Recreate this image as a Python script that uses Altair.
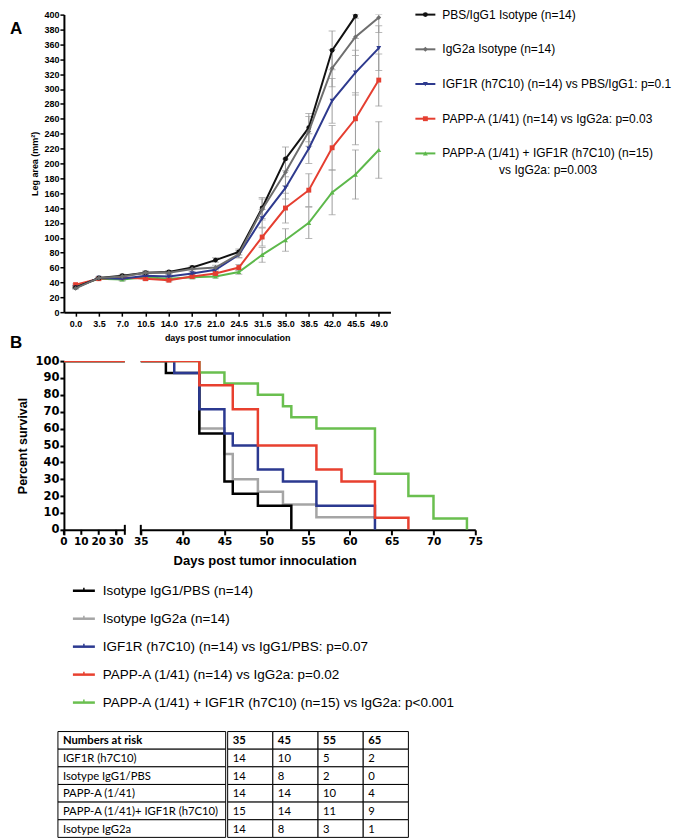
import altair as alt
import pandas as pd

FONT = "Liberation Sans"

# ---------------- Panel A : leg tumour area ----------------
DAYS_A = ["0.0", "3.5", "7.0", "10.5", "14.0", "17.5", "21.0", "24.5",
          "31.5", "35.0", "38.5", "42.0", "45.5", "49.0"]
A_NAMES = [
    "PBS/IgG1 Isotype (n=14)",
    "IgG2a Isotype (n=14)",
    "IGF1R (h7C10) (n=14) vs PBS/IgG1: p=0.1",
    "PAPP-A (1/41) (n=14) vs IgG2a: p=0.03",
    "PAPP-A (1/41) + IGF1R (h7C10) (n=15)",
]
A_NAME_CONT = "vs IgG2a: p=0.003"
A_PBS = [33, 46, 49, 53, 54, 60, 70, 81, 140, 206, 248, 352, 398, None]
A_IGG2A = [32, 46, 48, 53, 53, 58, 60, 78, 138, 188, 243, 328, 370, 396]
A_IGF1R = [33, 46, 45, 49, 48, 52, 57, 77, 126, 167, 220, 284, 322, 355]
A_PAPPA = [37, 45, 47, 45, 43, 48, 52, 60, 101, 140, 164, 221, 260, 312]
A_COMBO = [35, 45, 44, 47, 45, 47, 48, 54, 77, 97, 120, 161, 185, 218]
SEM_PBS = [1, 1, 2, 2, 2, 2, 3, 4, 14, 16, 19, 26, 30, None]
SEM_IGG2A = [1, 1, 2, 2, 2, 3, 3, 5, 14, 18, 20, 25, 25, 20]
SEM_IGF1R = [1, 1, 2, 2, 2, 2, 3, 4, 12, 15, 20, 30, 30, 30]
SEM_PAPPA = [1, 1, 2, 2, 2, 2, 3, 4, 12, 20, 22, 30, 35, 35]
SEM_COMBO = [1, 1, 2, 2, 2, 2, 2, 3, 10, 15, 21, 30, 33, 38]

A_COLORS = ["#111111", "#6e6e6e", "#2e3a8e", "#e53e30", "#5db84b"]
A_SHAPES = ["circle", "diamond", "triangle-down", "square", "triangle-up"]
A_VALUES = [A_PBS, A_IGG2A, A_IGF1R, A_PAPPA, A_COMBO]
A_SEMS = [SEM_PBS, SEM_IGG2A, SEM_IGF1R, SEM_PAPPA, SEM_COMBO]

# ---------------- Panel B : Kaplan-Meier ----------------
B_NAMES = [
    "Isotype IgG1/PBS (n=14)",
    "Isotype IgG2a (n=14)",
    "IGF1R (h7C10) (n=14) vs IgG1/PBS: p=0.07",
    "PAPP-A (1/41) (n=14) vs IgG2a: p=0.02",
    "PAPP-A (1/41) + IGF1R (h7C10) (n=15) vs IgG2a: p<0.001",
]
KM_T_PBS = [0, 38, 42, 45, 46, 49, 53]
KM_S_PBS = [100, 92.9, 57.1, 28.6, 21.4, 14.3, 0]
KM_T_IGG2A = [0, 42, 45, 46, 49, 52, 56, 63]
KM_S_IGG2A = [100, 60, 45, 30, 22.5, 15, 7.5, 7.5]
KM_T_IGF1R = [0, 39, 42, 45, 46, 49, 52, 56, 63]
KM_S_IGF1R = [100, 92.9, 71.4, 57.1, 50, 35.7, 28.6, 14.3, 0]
KM_T_PAPPA = [0, 42, 46, 49, 56, 59, 63, 67]
KM_S_PAPPA = [100, 85.7, 71.4, 50, 35.7, 28.6, 7.1, 0]
KM_T_COMBO = [0, 42, 45, 49, 52, 53, 56, 63, 67, 70, 74]
KM_S_COMBO = [100, 93.3, 86.7, 80, 73.3, 66.7, 60, 33.3, 20, 6.7, 0]
B_COLORS = ["#000000", "#a5a5a5", "#2b3990", "#e8402f", "#6abf4f"]
KM_T = [KM_T_PBS, KM_T_IGG2A, KM_T_IGF1R, KM_T_PAPPA, KM_T_COMBO]
KM_S = [KM_S_PBS, KM_S_IGG2A, KM_S_IGF1R, KM_S_PAPPA, KM_S_COMBO]
B_LEFT_TICKS = [0, 10, 20, 30]
B_RIGHT_TICKS = [35, 40, 45, 50, 55, 60, 65, 70, 75]
B_Y_TICKS = [0, 10, 20, 30, 40, 50, 60, 70, 80, 90, 100]

# ---------------- Numbers at risk table ----------------
TABLE_TITLE = "Numbers at risk"
TABLE_DAYS = ["35", "45", "55", "65"]
TABLE_ROWS = ["IGF1R (h7C10)", "Isotype IgG1/PBS", "PAPP-A (1/41)",
              "PAPP-A (1/41)+ IGF1R (h7C10)", "Isotype IgG2a"]
RISK_IGF1R = [14, 10, 5, 2]
RISK_PBS = [14, 8, 2, 0]
RISK_PAPPA = [14, 14, 10, 4]
RISK_COMBO = [15, 14, 11, 9]
RISK_IGG2A = [14, 8, 3, 1]
RISK = [RISK_IGF1R, RISK_PBS, RISK_PAPPA, RISK_COMBO, RISK_IGG2A]

one = pd.DataFrame({"v": [0]})
LEFT = -56  # common left extent of every row (keeps plot origins at the same x)


def anchor(x, y1, y2):
    return alt.Chart(one).mark_rule(opacity=0).encode(
        x=alt.value(x), y=alt.value(y1), y2=alt.value(y2))


def letter(t, x, y):
    return alt.Chart(pd.DataFrame({"t": [t]})).mark_text(
        font=FONT, fontSize=17, fontWeight="bold", align="left",
        baseline="top", color="black").encode(x=alt.value(x), y=alt.value(y), text="t:N")


# ================= Panel A =================
recs = []
for k, (vals, sems) in enumerate(zip(A_VALUES, A_SEMS)):
    for i, (d, v, s) in enumerate(zip(DAYS_A, vals, sems)):
        if v is None:
            continue
        recs.append({"k": k, "day": d, "idx": i, "value": v, "lo": v - s, "hi": v + s})
dfA = pd.DataFrame(recs)

AX_A = dict(domainColor="black", domainWidth=2, tickColor="black", tickWidth=1.5,
            tickSize=4, labelFont=FONT, labelFontWeight="bold", labelFontSize=9,
            labelColor="black", titleFont=FONT, titleFontWeight="bold",
            titleFontSize=9, titleColor="black", grid=False, labelOverlap=False,
            labelFlush=False)


def xA():
    return alt.X("day:O", sort=DAYS_A, scale=alt.Scale(type="point", padding=0.5),
                 axis=alt.Axis(title="days post tumor innoculation", labelAngle=0,
                               labelPadding=3, titlePadding=5, **AX_A))


def yA(field):
    return alt.Y(f"{field}:Q", scale=alt.Scale(domain=[0, 400], nice=False, clamp=True),
                 axis=alt.Axis(values=list(range(0, 401, 20)), title="Leg area (mm²)",
                               labelPadding=1, titlePadding=4, **AX_A))


ERR = "#9b9b9b"
layersA = [
    alt.Chart(dfA).mark_rule(color=ERR, strokeWidth=1, clip=True).encode(x=xA(), y=yA("lo"), y2="hi:Q"),
    alt.Chart(dfA).mark_tick(color=ERR, thickness=1, size=7, clip=True).encode(x=xA(), y=yA("hi")),
    alt.Chart(dfA).mark_tick(color=ERR, thickness=1, size=7, clip=True).encode(x=xA(), y=yA("lo")),
]
for k in [4, 3, 2, 0, 1]:
    d = dfA[dfA.k == k]
    layersA.append(alt.Chart(d).mark_line(color=A_COLORS[k], strokeWidth=2).encode(
        x=xA(), y=yA("value"), order="idx:Q"))
    layersA.append(alt.Chart(d).mark_point(color=A_COLORS[k], shape=A_SHAPES[k], filled=True,
                                           size=24, opacity=1).encode(x=xA(), y=yA("value")))
layersA += [anchor(LEFT, -6, 330), letter("A", -54, 6), letter("B", -54, 321)]
panelA = alt.layer(*layersA).properties(width=327, height=298)

# legend A
legA = [anchor(0, -6, 0)]
LSA = alt.Scale(type="point", padding=0, domain=A_NAMES)
for k in range(5):
    d = pd.DataFrame({"series": [A_NAMES[k]], "cont": [A_NAME_CONT if k == 4 else ""]})
    yk = alt.Y("series:N", scale=LSA, axis=None)
    legA += [
        alt.Chart(d).mark_rule(color=A_COLORS[k], strokeWidth=2).encode(
            x=alt.value(0), x2=alt.value(20), y=yk),
        alt.Chart(d).mark_point(color=A_COLORS[k], shape=A_SHAPES[k], filled=True,
                                size=24, opacity=1).encode(x=alt.value(10), y=yk),
        alt.Chart(d).mark_text(align="left", baseline="middle", font=FONT, fontSize=12,
                               color="black").encode(x=alt.value(27), y=yk, text="series:N"),
    ]
    if k == 4:
        legA.append(alt.Chart(d).mark_text(align="center", baseline="middle", font=FONT,
                                           fontSize=12, color="black", dy=17).encode(
            x=alt.value(133), y=yk, text="cont:N"))
legendA = alt.layer(*legA).properties(width=240, height=139)

row1 = alt.hconcat(panelA, legendA, spacing=24)

# ================= Panel B =================
recsB = []
for k in range(5):
    for t, s in zip(KM_T[k], KM_S[k]):
        recsB.append({"k": k, "t": t, "s": s})
dfB = pd.DataFrame(recsB)

AX_B = dict(domainColor="black", domainWidth=2, tickColor="black", tickWidth=2,
            labelFont="DejaVu Sans", labelFontWeight="bold", labelColor="black",
            titleFont=FONT, titleFontWeight="bold", titleColor="black", grid=False,
            labelOverlap=False, labelFlush=False, labelBound=False)
BH = 169  # plot height of panel B


def yB(show):
    if show:
        ax = alt.Axis(values=B_Y_TICKS, title="Percent survival", tickSize=4,
                      labelPadding=1, labelFontSize=11.5, titleFontSize=12.5,
                      titlePadding=5, **AX_B)
    else:
        ax = None
    return alt.Y("s:Q", scale=alt.Scale(domain=[0, 100], nice=False), axis=ax)


def xB(domain, values, labels=True, title=None, titleX=None):
    kw = dict(values=values, tickSize=5, labelPadding=2, labelFontSize=10.5,
              titleFontSize=13, titlePadding=7, labels=labels, **AX_B)
    if title:
        kw["title"] = title
        kw["titleX"] = titleX
    else:
        kw["title"] = None
    return alt.X("t:Q", scale=alt.Scale(domain=domain, nice=False, zero=False),
                 axis=alt.Axis(**kw))


ORDER_B = [1, 0, 2, 4, 3]


def km_layers(xenc, show_y):
    out = []
    for k in ORDER_B:
        out.append(alt.Chart(dfB[dfB.k == k]).mark_line(
            color=B_COLORS[k], strokeWidth=2.5, interpolate="step-after", clip=True).encode(
            x=xenc, y=yB(show_y)))
    return out


def brk():
    return alt.Chart(one).mark_rule(color="black", strokeWidth=2).encode(
        x=alt.datum(35), y=alt.value(BH - 5), y2=alt.value(BH + 5))


xl = xB([0, 35], B_LEFT_TICKS, labels=False)
dft = pd.DataFrame({"t": B_LEFT_TICKS})
bl_ticks = alt.Chart(dft).mark_rule(color="black", strokeWidth=2).encode(
    x=xl, y=alt.value(BH), y2=alt.value(BH + 5))
bl_labels = alt.Chart(dft).mark_text(font="DejaVu Sans", fontWeight="bold", fontSize=10.5,
                                     baseline="top", align="center", color="black").encode(
    x=xl, y=alt.value(BH + 7), text="t:Q")
Bleft = alt.layer(*km_layers(xl, True), bl_ticks, bl_labels, brk(),
                  anchor(LEFT, -10, 212)).properties(width=61, height=BH)

xr = xB([35, 75], B_RIGHT_TICKS, True, "Days post tumor innoculation", 124)
Bright = alt.layer(*km_layers(xr, False), brk(),
                   anchor(347, -10, 212)).properties(width=335, height=BH)

row2 = alt.hconcat(Bleft, Bright, spacing=7)

# legend B (drawn 9 px right of the common plot origin)
LB = 9
legB = [anchor(LEFT, -18, 140)]
LSB = alt.Scale(type="point", padding=0, domain=B_NAMES)
for k in range(5):
    d = pd.DataFrame({"name": [B_NAMES[k]]})
    yk = alt.Y("name:N", scale=LSB, axis=None)
    legB += [
        alt.Chart(d).mark_rule(color=B_COLORS[k], strokeWidth=2.5).encode(
            x=alt.value(LB), x2=alt.value(LB + 22), y=yk),
        alt.Chart(d).mark_point(color=B_COLORS[k], shape="M0,-1L0,0", size=36,
                                filled=False, strokeWidth=1.5, opacity=1).encode(
            x=alt.value(LB + 11), y=yk),
        alt.Chart(d).mark_text(align="left", baseline="middle", font=FONT, fontSize=13.5,
                               color="black").encode(x=alt.value(LB + 30), y=yk, text="name:N"),
    ]
legendB = alt.layer(*legB).properties(width=370, height=112)

# table
TFONT = "Lato"
TSIZE = 11.3
t1 = pd.DataFrame({"r": list(range(6)), "c": ["lab"] * 6, "txt": [TABLE_TITLE] + TABLE_ROWS})
recsT = []
for j, dday in enumerate(TABLE_DAYS):
    recsT.append({"r": 0, "c": dday, "txt": dday})
    for i, rr in enumerate(RISK):
        recsT.append({"r": i + 1, "c": dday, "txt": str(rr[j])})
t2 = pd.DataFrame(recsT)

yT = alt.Y("r:O", axis=None, scale=alt.Scale(paddingInner=0, paddingOuter=0))


def table_part(df, width, sortc, xrange, left_anchor):
    sc = dict(paddingInner=0, paddingOuter=0)
    if xrange:
        sc["range"] = xrange
    xT = alt.X("c:N", axis=None, sort=sortc, scale=alt.Scale(**sc))
    xTt = alt.X("c:N", axis=None, sort=sortc, bandPosition=0, scale=alt.Scale(**sc))
    layers = [
        alt.Chart(df).mark_rect(fill="white", stroke="black", strokeWidth=1).encode(x=xT, y=yT),
        alt.Chart(df).transform_filter("datum.r == 0").mark_text(
            align="left", baseline="middle", font=TFONT, fontSize=TSIZE, fontWeight="bold",
            color="black", dx=5, dy=1).encode(x=xTt, y=yT, text="txt:N"),
        alt.Chart(df).transform_filter("datum.r > 0").mark_text(
            align="left", baseline="middle", font=TFONT, fontSize=TSIZE,
            color="black", dx=5, dy=1).encode(x=xTt, y=yT, text="txt:N"),
    ]
    if left_anchor:
        layers.append(anchor(LEFT, 0, 1))
    return alt.layer(*layers).properties(width=width, height=106)


row4 = alt.hconcat(table_part(t1, 162, ["lab"], [-6, 162], True),
                   table_part(t2, 181, TABLE_DAYS, None, False), spacing=0)

chart = alt.vconcat(row1, row2, legendB, row4, spacing=0).properties(
    padding={"left": 0, "top": 0, "right": 0, "bottom": 0}
).configure_view(stroke=None)

chart.save("out.html", embed_options={"renderer": "svg", "actions": False})
